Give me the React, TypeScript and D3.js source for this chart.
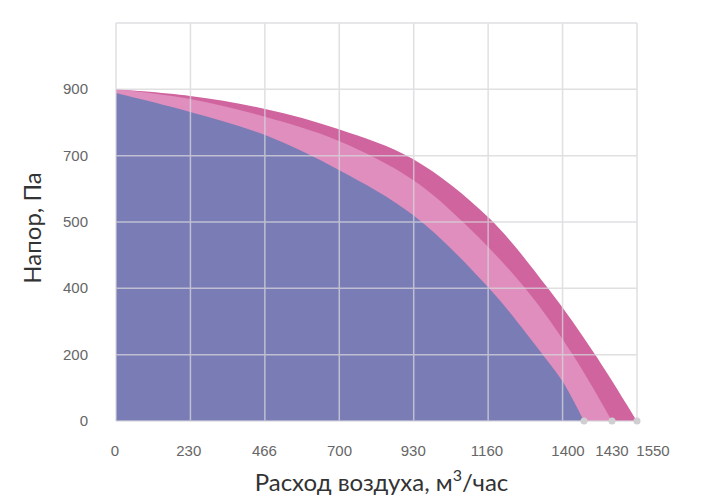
import React from 'react';
import * as d3 from 'd3';

// tick labels
const yTickValues = [0, 200, 400, 500, 700, 900];
const xTickValues = [0, 230, 466, 700, 930, 1160];
const xEndValues = [1400, 1430, 1550];

// fan curves: flow (m3/h) vs pressure (Pa)
const flowLow = [0, 231, 465, 695, 926, 1160, 1297, 1347, 1400];
const pressureLow = [889, 832, 762, 657, 521, 402, 200, 118, 0];

const flowMid = [0, 231, 465, 695, 926, 1082, 1253, 1372, 1430];
const pressureMid = [900, 871, 817, 744, 627, 500, 400, 200, 0];

const flowHigh = [0, 231, 465, 695, 926, 1160, 1310, 1412, 1550];
const pressureHigh = [900, 880, 841, 780, 690, 515, 400, 200, 0];

type Pt = { q: number; p: number };
const zip = (q: number[], p: number[]): Pt[] => q.map((v, i) => ({ q: v, p: p[i] }));

const W = 715;
const H = 500;
const left = 116;
const right = 637;
const top = 23;
const bottom = 421;

const App: React.FC = () => {
  // the original chart uses uneven axis spacing, so the scales are piecewise linear
  const yDomain = [...yTickValues, 1100];
  const y = d3
    .scaleLinear()
    .domain(yDomain)
    .range(yDomain.map((_, i) => bottom - (i * (bottom - top)) / (yDomain.length - 1)));

  const x = d3
    .scaleLinear()
    .domain([0, 1160, 1400, 1430, 1550])
    .range([left, 488, 584, 612, right]);

  const grid = d3.scaleLinear().domain([0, 7]).range([left, right]);

  const area = d3
    .area<Pt>()
    .x(d => x(d.q))
    .y0(y(0))
    .y1(d => y(d.p))
    .curve(d3.curveCatmullRom.alpha(0.5));

  const series = [
    { data: zip(flowHigh, pressureHigh), color: '#d0649f' },
    { data: zip(flowMid, pressureMid), color: '#e08ebd' },
    { data: zip(flowLow, pressureLow), color: '#7a7cb6' },
  ];

  const labelNudge = [-16, 0, 16];
  const tickFont = '"Liberation Sans", Arial, sans-serif';
  const titleFont = 'Lato, "Open Sans", sans-serif';

  return (
    <svg
      width={W}
      height={H}
      style={{ position: 'absolute', left: 0, top: 0, background: '#fff' }}
    >
      {series.map((s, i) => (
        <path key={i} d={area(s.data) || ''} fill={s.color} />
      ))}

      <g stroke="#d6d6da" strokeWidth={1.5} opacity={0.75}>
        {yDomain.map(v => (
          <line key={'h' + v} x1={left} x2={right} y1={y(v)} y2={y(v)} />
        ))}
        {d3.range(8).map(i => (
          <line key={'v' + i} x1={grid(i)} x2={grid(i)} y1={top} y2={bottom} />
        ))}
      </g>

      {xEndValues.map(v => (
        <circle key={'c' + v} cx={x(v)} cy={y(0)} r={3.5} fill="#cfcfd2" />
      ))}

      <g fontFamily={tickFont} fontSize={15} fill="#666">
        {yTickValues.map(v => (
          <text key={'yt' + v} x={88} y={y(v) + 1} textAnchor="end" dominantBaseline="middle">
            {v}
          </text>
        ))}
        {xTickValues.map(v => (
          <text key={'xt' + v} x={x(v) - 1} y={452} textAnchor="middle" dominantBaseline="middle">
            {v}
          </text>
        ))}
        {xEndValues.map((v, i) => (
          <text
            key={'xe' + v}
            x={x(v) + labelNudge[i]}
            y={452}
            textAnchor="middle"
            dominantBaseline="middle"
          >
            {v}
          </text>
        ))}
      </g>

      <text
        x={(left + right) / 2 + 5}
        y={491}
        textAnchor="middle"
        fontFamily={titleFont}
        fontSize={24}
        fill="#333"
      >
        Расход воздуха, м<tspan dy={-10} fontSize={16}>3</tspan>
        <tspan dy={10}>/час</tspan>
      </text>

      <text
        transform={`translate(41,${(top + bottom) / 2 + 6}) rotate(-90)`}
        textAnchor="middle"
        fontFamily={titleFont}
        fontSize={24}
        fill="#333"
      >
        Напор, Па
      </text>
    </svg>
  );
};

export default App;
